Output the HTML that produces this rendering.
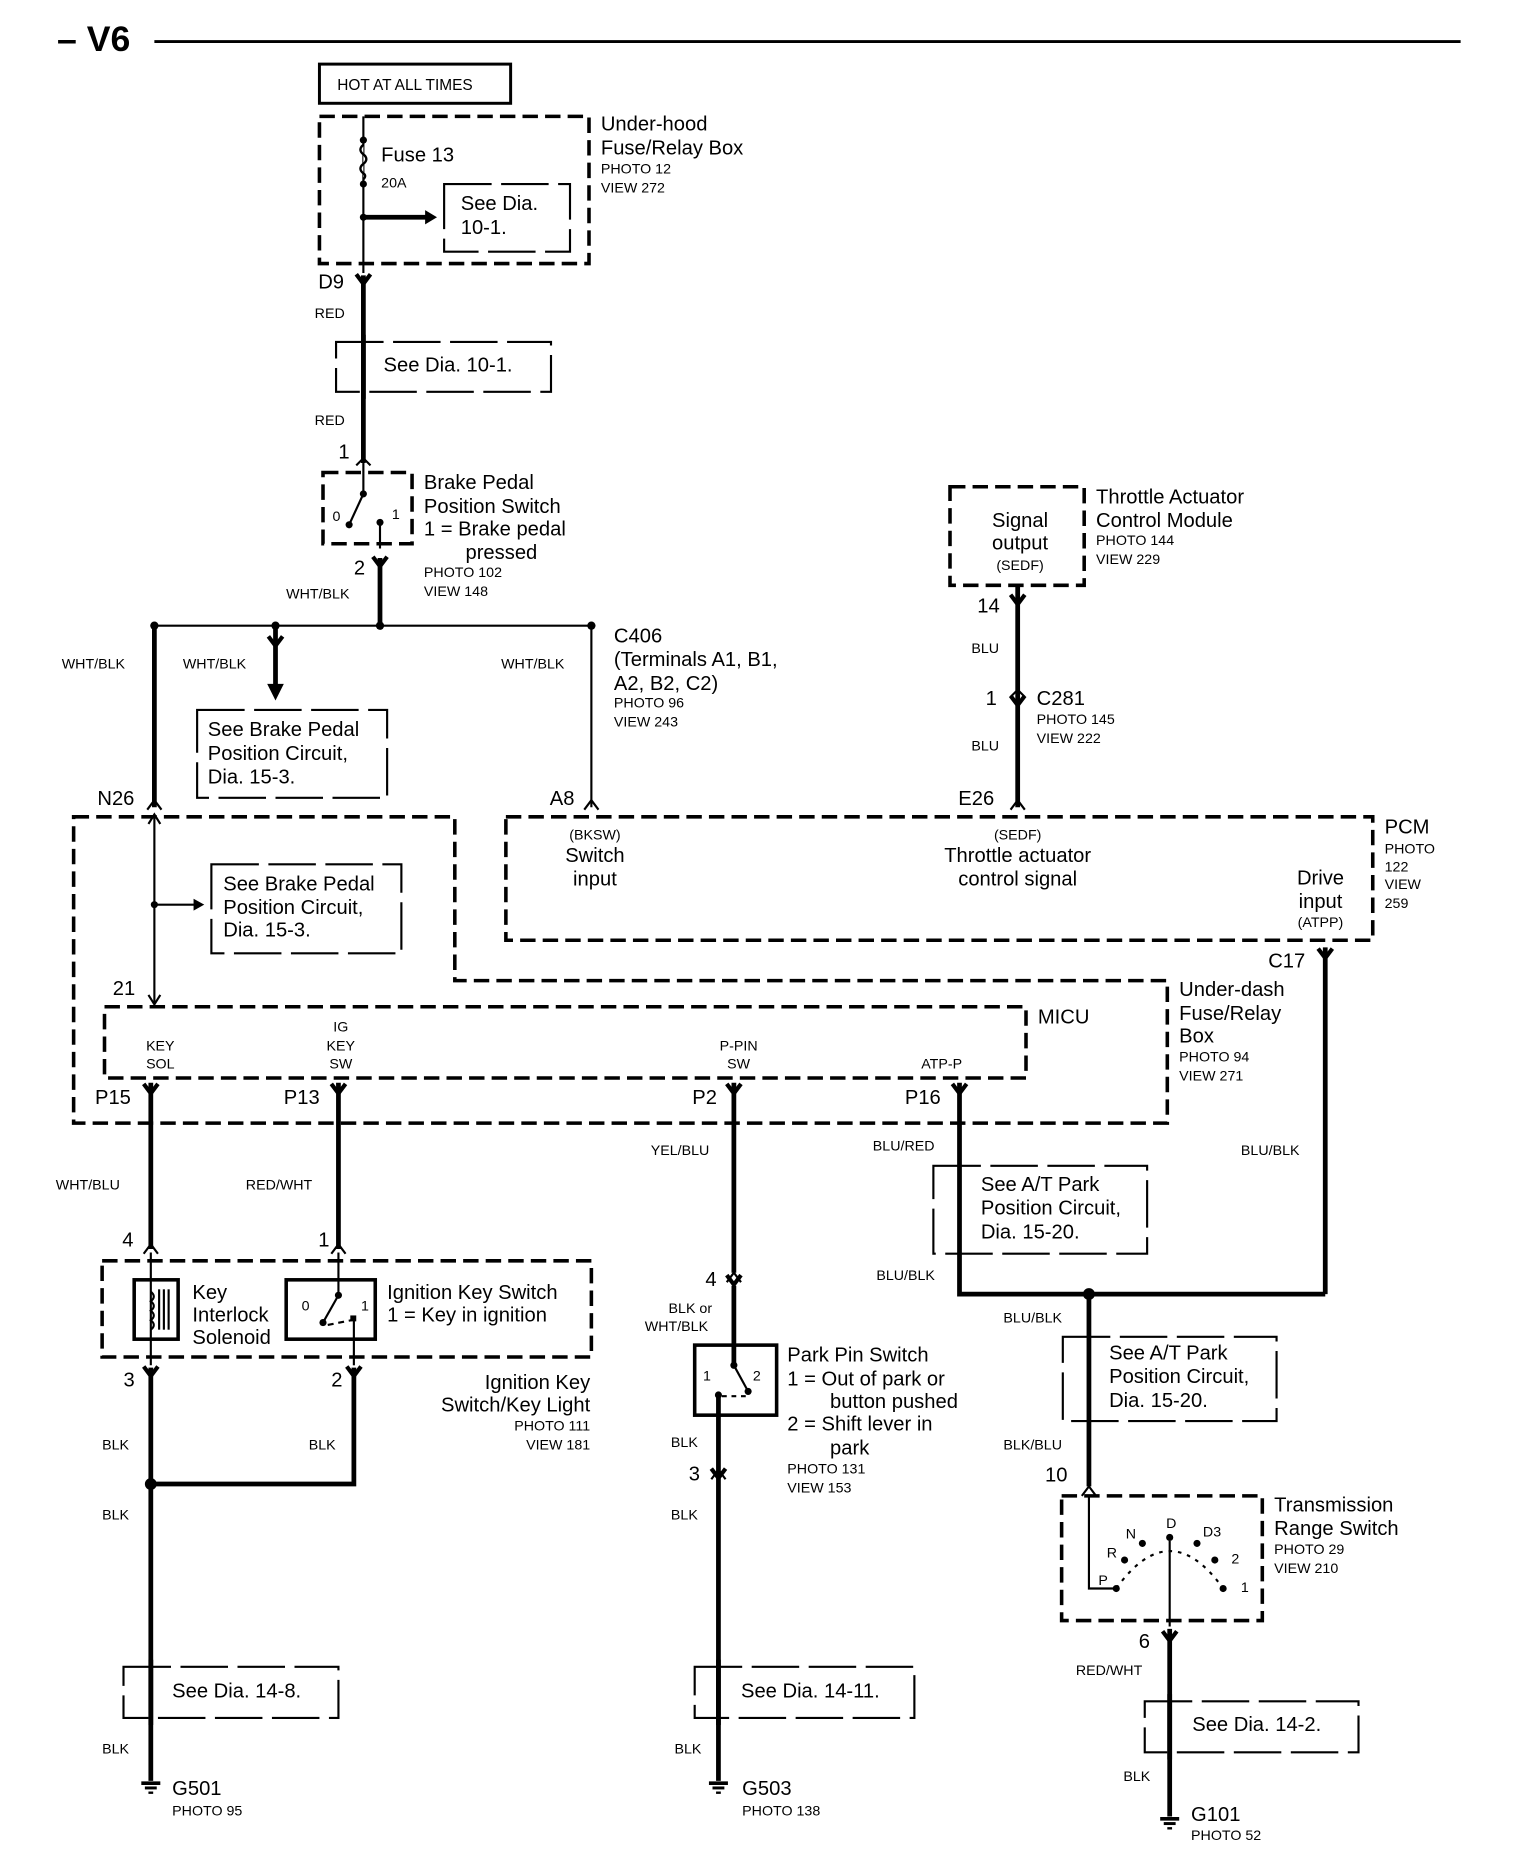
<!DOCTYPE html>
<html><head><meta charset="utf-8"><style>
html,body{margin:0;padding:0;background:#fff}
svg{display:block}
text{font-family:"Liberation Sans",sans-serif;fill:#000}
.l{font-size:17px}.s{font-size:12px}
.d{fill:none;stroke:#000;stroke-width:3;stroke-dasharray:13 6}
.w{stroke:#000;stroke-width:4;fill:none}
.t{stroke:#000;stroke-width:1.8;fill:none}
</style></head><body>
<svg width="1520" height="1858" viewBox="0 0 1280 1565" preserveAspectRatio="none" xmlns="http://www.w3.org/2000/svg">
<defs>
<g id="cf"><path d="M-6,-9 L0,-1 L6,-9" stroke="#000" stroke-width="3.5" fill="none"/></g>
<g id="gnd"><line x1="-8" y1="0" x2="8" y2="0" stroke="#000" stroke-width="3"/><line x1="-5" y1="4" x2="5" y2="4" stroke="#000" stroke-width="2.5"/><line x1="-2" y1="8" x2="2" y2="8" stroke="#000" stroke-width="2"/></g>
</defs>
<text x="48" y="43" font-size="30" font-weight="bold">– V6</text>
<line x1="130" y1="35" x2="1230" y2="35" stroke="#000" stroke-width="2.5"/>

<rect x="269" y="54" width="161" height="33" fill="none" stroke="#000" stroke-width="2.5"/>
<text x="284" y="76" font-size="13">HOT AT ALL TIMES</text>
<rect x="269" y="98" width="227" height="124" class="d"/>
<line x1="306" y1="98" x2="306" y2="230" class="t"/>
<circle cx="306" cy="118" r="3"/><circle cx="306" cy="155" r="3"/><circle cx="306" cy="183" r="3"/>
<path d="M306,122 q-5,4 0,8 q5,4 0,8 q-5,4 0,8 q3,2 0,5" stroke="#000" stroke-width="2" fill="#fff"/>
<text x="321" y="136" class="l">Fuse 13</text><text x="321" y="158" class="s">20A</text>
<line x1="306" y1="183" x2="360" y2="183" class="w" stroke-width="2.5"/><path d="M358,177 L368,183 L358,189Z"/>
<path d="M374,155 L480,155 L480,212 L374,212 Z" class="t" stroke-dasharray="40 8"/>
<text x="388" y="177" class="l">See Dia.</text><text x="388" y="197" class="l">10-1.</text>
<text x="506" y="110" class="l">Under-hood</text><text x="506" y="130" class="l">Fuse/Relay Box</text>
<text x="506" y="146" class="s">PHOTO 12</text><text x="506" y="162" class="s">VIEW 272</text>

<use href="#cf" x="306" y="240"/><text x="268" y="243" class="l">D9</text>
<line x1="306" y1="232" x2="306" y2="390" class="w"/>
<text x="265" y="268" class="s">RED</text><text x="265" y="358" class="s">RED</text>
<rect x="283" y="288" width="181" height="42" class="t" stroke-dasharray="40 8" fill="#fff"/>
<line x1="306" y1="282" x2="306" y2="336" class="w"/>
<text x="323" y="313" class="l">See Dia. 10-1.</text>
<text x="285" y="386" class="l">1</text>
<path d="M300,392 L306,386 L312,392" class="t" stroke-width="2.5"/>

<rect x="272" y="398" width="75" height="60" class="d"/>
<line x1="306" y1="390" x2="306" y2="415" class="t"/><circle cx="306" cy="416" r="3"/>
<line x1="306" y1="416" x2="294" y2="442" class="t" stroke-width="2.5"/><circle cx="294" cy="442" r="3"/>
<circle cx="320" cy="440" r="3"/><line x1="320" y1="440" x2="320" y2="462" class="t"/>
<text x="280" y="439" class="s">0</text><text x="330" y="437" class="s">1</text>
<text x="357" y="412" class="l">Brake Pedal</text><text x="357" y="432" class="l">Position Switch</text>
<text x="357" y="451" class="l">1 =  Brake pedal</text><text x="392" y="471" class="l">pressed</text>
<text x="357" y="486" class="s">PHOTO 102</text><text x="357" y="502" class="s">VIEW 148</text>
<text x="298" y="484" class="l">2</text><use href="#cf" x="320" y="478"/>
<line x1="320" y1="470" x2="320" y2="527" class="w"/>
<text x="241" y="504" class="s">WHT/BLK</text>
<line x1="130" y1="527" x2="498" y2="527" class="t"/>
<circle cx="130" cy="527" r="3.5"/><circle cx="232" cy="527" r="3.5"/><circle cx="320" cy="527" r="3.5"/><circle cx="498" cy="527" r="3.5"/>
<line x1="130" y1="527" x2="130" y2="680" class="w"/>
<line x1="232" y1="527" x2="232" y2="578" class="w"/><path d="M225,576 L232,590 L239,576Z"/>
<use href="#cf" x="232" y="545"/>
<line x1="498" y1="527" x2="498" y2="680" class="t"/>
<text x="52" y="563" class="s">WHT/BLK</text><text x="154" y="563" class="s">WHT/BLK</text><text x="422" y="563" class="s">WHT/BLK</text>
<rect x="166" y="598" width="160" height="74" class="t" stroke-dasharray="40 8"/>
<text x="175" y="620" class="l">See Brake Pedal</text><text x="175" y="640" class="l">Position  Circuit,</text><text x="175" y="660" class="l">Dia. 15-3.</text>
<text x="517" y="541" class="l">C406</text><text x="517" y="561" class="l">(Terminals A1, B1,</text><text x="517" y="581" class="l">A2, B2, C2)</text>
<text x="517" y="596" class="s">PHOTO 96</text><text x="517" y="612" class="s">VIEW 243</text>
<text x="82" y="678" class="l">N26</text><text x="463" y="678" class="l">A8</text>
<path d="M124,682 L130,674 L136,682" class="t" stroke-width="2.5"/><path d="M492,682 L498,674 L504,682" class="t" stroke-width="2.5"/>

<rect x="800" y="410" width="113" height="83" class="d"/>
<text x="859" y="444" class="l" text-anchor="middle">Signal</text><text x="859" y="463" class="l" text-anchor="middle">output</text><text x="859" y="480" class="s" text-anchor="middle">(SEDF)</text>
<text x="923" y="424" class="l">Throttle Actuator</text><text x="923" y="444" class="l">Control Module</text>
<text x="923" y="459" class="s">PHOTO 144</text><text x="923" y="475" class="s">VIEW 229</text>
<text x="823" y="516" class="l">14</text><use href="#cf" x="857" y="510"/>
<line x1="857" y1="493" x2="857" y2="680" class="w"/>
<text x="818" y="550" class="s">BLU</text><text x="818" y="632" class="s">BLU</text>
<use href="#cf" x="857" y="595"/><path d="M851,587 L857,581 L863,587" class="t" stroke-width="2.5"/>
<text x="830" y="594" class="l">1</text><text x="873" y="594" class="l">C281</text>
<text x="873" y="610" class="s">PHOTO 145</text><text x="873" y="626" class="s">VIEW 222</text>
<text x="807" y="678" class="l">E26</text><path d="M851,682 L857,674 L863,682" class="t" stroke-width="2.5"/>

<rect x="426" y="688" width="730" height="104" class="d"/>
<text x="501" y="707" class="s" text-anchor="middle">(BKSW)</text><text x="501" y="726" class="l" text-anchor="middle">Switch</text><text x="501" y="746" class="l" text-anchor="middle">input</text>
<text x="857" y="707" class="s" text-anchor="middle">(SEDF)</text><text x="857" y="726" class="l" text-anchor="middle">Throttle actuator</text><text x="857" y="746" class="l" text-anchor="middle">control signal</text>
<text x="1112" y="745" class="l" text-anchor="middle">Drive</text><text x="1112" y="765" class="l" text-anchor="middle">input</text><text x="1112" y="781" class="s" text-anchor="middle">(ATPP)</text>
<text x="1166" y="702" class="l">PCM</text><text x="1166" y="719" class="s">PHOTO</text><text x="1166" y="734" class="s">122</text><text x="1166" y="749" class="s">VIEW</text><text x="1166" y="765" class="s">259</text>
<text x="1068" y="815" class="l">C17</text><use href="#cf" x="1116" y="808"/>
<line x1="1116" y1="798" x2="1116" y2="1090" class="w"/>

<path d="M62,688 L383,688 L383,826 L983,826 L983,946 L62,946 Z" class="d"/>
<text x="993" y="839" class="l">Under-dash</text><text x="993" y="859" class="l">Fuse/Relay</text><text x="993" y="878" class="l">Box</text>
<text x="993" y="894" class="s">PHOTO 94</text><text x="993" y="910" class="s">VIEW 271</text>
<line x1="130" y1="686" x2="130" y2="845" class="t"/>
<path d="M125,694 L130,686 L135,694" class="t"/><path d="M125,838 L130,846 L135,838" class="t"/>
<circle cx="130" cy="762" r="3"/><line x1="130" y1="762" x2="165" y2="762" class="t"/><path d="M163,757 L172,762 L163,767Z"/>
<rect x="178" y="728" width="160" height="75" class="t" stroke-dasharray="40 8"/>
<text x="188" y="750" class="l">See Brake Pedal</text><text x="188" y="770" class="l">Position  Circuit,</text><text x="188" y="789" class="l">Dia. 15-3.</text>
<text x="95" y="838" class="l">21</text>
<rect x="88" y="848" width="776" height="60" class="d"/>
<text x="874" y="862" class="l">MICU</text>
<text x="135" y="885" class="s" text-anchor="middle">KEY</text><text x="135" y="900" class="s" text-anchor="middle">SOL</text>
<text x="287" y="869" class="s" text-anchor="middle">IG</text><text x="287" y="885" class="s" text-anchor="middle">KEY</text><text x="287" y="900" class="s" text-anchor="middle">SW</text>
<text x="622" y="885" class="s" text-anchor="middle">P-PIN</text><text x="622" y="900" class="s" text-anchor="middle">SW</text>
<text x="793" y="900" class="s" text-anchor="middle">ATP-P</text>
<text x="80" y="930" class="l">P15</text><text x="239" y="930" class="l">P13</text><text x="583" y="930" class="l">P2</text><text x="762" y="930" class="l">P16</text>
<use href="#cf" x="127" y="922"/><use href="#cf" x="285" y="922"/><use href="#cf" x="618" y="922"/><use href="#cf" x="808" y="922"/>
<line x1="127" y1="912" x2="127" y2="1052" class="w"/>
<line x1="285" y1="912" x2="285" y2="1052" class="w"/>
<line x1="618" y1="912" x2="618" y2="1072" class="w"/>
<path d="M808,912 L808,1090 L1116,1090" class="w"/>
<circle cx="917" cy="1090" r="5"/>
<line x1="917" y1="1090" x2="917" y2="1252" class="w"/>
<text x="47" y="1002" class="s">WHT/BLU</text><text x="207" y="1002" class="s">RED/WHT</text>
<text x="548" y="973" class="s">YEL/BLU</text><text x="735" y="969" class="s">BLU/RED</text><text x="1045" y="973" class="s">BLU/BLK</text>
<text x="738" y="1078" class="s">BLU/BLK</text><text x="845" y="1114" class="s">BLU/BLK</text>
<rect x="786" y="982" width="180" height="74" class="t" stroke-dasharray="40 8"/>
<text x="826" y="1003" class="l">See A/T Park</text><text x="826" y="1023" class="l">Position Circuit,</text><text x="826" y="1043" class="l">Dia. 15-20.</text>
<rect x="895" y="1126" width="180" height="71" class="t" stroke-dasharray="40 8"/>
<text x="934" y="1145" class="l">See A/T Park</text><text x="934" y="1165" class="l">Position Circuit,</text><text x="934" y="1185" class="l">Dia. 15-20.</text>

<text x="103" y="1050" class="l">4</text><text x="268" y="1050" class="l">1</text>
<path d="M121,1056 L127,1048 L133,1056" class="t" stroke-width="2.5"/><path d="M279,1056 L285,1048 L291,1056" class="t" stroke-width="2.5"/>
<rect x="86" y="1062" width="412" height="81" class="d"/>
<rect x="113" y="1078" width="37" height="50" fill="none" stroke="#000" stroke-width="3"/>
<line x1="127" y1="1055" x2="127" y2="1150" class="t"/>
<path d="M127,1088 q5,4 0,8 q5,4 0,8 q5,4 0,8 q5,4 0,8" class="t"/>
<line x1="134" y1="1086" x2="134" y2="1120" class="t" stroke-width="1.2"/><line x1="138" y1="1086" x2="138" y2="1120" class="t" stroke-width="1.2"/><line x1="142" y1="1086" x2="142" y2="1120" class="t" stroke-width="1.2"/>
<text x="162" y="1094" class="l">Key</text><text x="162" y="1113" class="l">Interlock</text><text x="162" y="1132" class="l">Solenoid</text>
<rect x="241" y="1078" width="75" height="50" fill="none" stroke="#000" stroke-width="3"/>
<line x1="285" y1="1055" x2="285" y2="1090" class="t"/><circle cx="285" cy="1091" r="3"/>
<line x1="285" y1="1091" x2="272" y2="1114" class="t" stroke-width="2.5"/><circle cx="272" cy="1114" r="3"/>
<path d="M276,1116 L296,1112" class="t" stroke-dasharray="5 4"/>
<rect x="295" y="1108" width="5" height="5"/><line x1="298" y1="1110" x2="298" y2="1150" class="t"/>
<text x="254" y="1104" class="s">0</text><text x="304" y="1104" class="s">1</text>
<text x="326" y="1094" class="l">Ignition Key Switch</text><text x="326" y="1113" class="l">1 =  Key in ignition</text>
<text x="104" y="1168" class="l">3</text><text x="279" y="1168" class="l">2</text>
<use href="#cf" x="127" y="1160"/><use href="#cf" x="298" y="1160"/>
<text x="497" y="1170" class="l" text-anchor="end">Ignition Key</text><text x="497" y="1189" class="l" text-anchor="end">Switch/Key Light</text>
<text x="497" y="1205" class="s" text-anchor="end">PHOTO 111</text><text x="497" y="1221" class="s" text-anchor="end">VIEW 181</text>
<text x="86" y="1221" class="s">BLK</text><text x="260" y="1221" class="s">BLK</text>
<path d="M298,1152 L298,1250 L127,1250" class="w"/><circle cx="127" cy="1250" r="5"/>
<line x1="127" y1="1152" x2="127" y2="1500" class="w"/>
<text x="86" y="1280" class="s">BLK</text>
<rect x="104" y="1404" width="181" height="43" class="t" stroke-dasharray="40 8" fill="#fff"/>
<line x1="127" y1="1398" x2="127" y2="1453" class="w"/>
<text x="145" y="1430" class="l">See Dia. 14-8.</text>
<text x="86" y="1477" class="s">BLK</text>
<use href="#gnd" x="127" y="1502"/>
<text x="145" y="1512" class="l">G501</text><text x="145" y="1529" class="s">PHOTO 95</text>

<text x="594" y="1083" class="l">4</text><use href="#cf" x="618" y="1083"/><path d="M612,1080 L618,1072 L624,1080" class="t" stroke-width="2.5"/>
<text x="563" y="1106" class="s">BLK or</text><text x="543" y="1121" class="s">WHT/BLK</text>
<line x1="618" y1="1083" x2="618" y2="1150" class="w"/>
<rect x="585" y="1133" width="69" height="59" fill="none" stroke="#000" stroke-width="3"/>
<circle cx="618" cy="1150" r="3"/><line x1="618" y1="1150" x2="630" y2="1172" class="t" stroke-width="2.5"/><circle cx="630" cy="1172" r="3"/>
<circle cx="605" cy="1175" r="3"/><path d="M608,1176 L630,1176" class="t" stroke-dasharray="4 4"/>
<text x="592" y="1163" class="s">1</text><text x="634" y="1163" class="s">2</text>
<line x1="605" y1="1175" x2="605" y2="1500" class="w"/>
<text x="663" y="1147" class="l">Park Pin Switch</text><text x="663" y="1167" class="l">1 = Out of park or</text>
<text x="699" y="1186" class="l">button pushed</text><text x="663" y="1205" class="l">2 = Shift lever in</text>
<text x="699" y="1225" class="l">park</text><text x="663" y="1241" class="s">PHOTO 131</text><text x="663" y="1257" class="s">VIEW 153</text>
<text x="565" y="1219" class="s">BLK</text><text x="580" y="1247" class="l">3</text>
<use href="#cf" x="605" y="1246"/><path d="M599,1246 L605,1238 L611,1246" class="t" stroke-width="2.5"/>
<text x="565" y="1280" class="s">BLK</text>
<rect x="585" y="1404" width="185" height="43" class="t" stroke-dasharray="40 8" fill="#fff"/>
<line x1="605" y1="1398" x2="605" y2="1453" class="w"/>
<text x="624" y="1430" class="l">See Dia. 14-11.</text>
<text x="568" y="1477" class="s">BLK</text>
<use href="#gnd" x="605" y="1502"/>
<text x="625" y="1512" class="l">G503</text><text x="625" y="1529" class="s">PHOTO 138</text>

<text x="845" y="1221" class="s">BLK/BLU</text><text x="880" y="1248" class="l">10</text>
<path d="M911,1260 L917,1252 L923,1260" class="t" stroke-width="2.5"/>
<rect x="894" y="1260" width="169" height="105" class="d"/>
<path d="M917,1260 L917,1338 L940,1338" class="t"/>
<path d="M940,1338 Q985,1275 1030,1338" class="t" stroke-dasharray="3 5"/>
<circle cx="940" cy="1338" r="3"/><circle cx="947" cy="1314" r="3"/><circle cx="962" cy="1300" r="3"/><circle cx="985" cy="1295" r="3"/><circle cx="1008" cy="1300" r="3"/><circle cx="1023" cy="1314" r="3"/><circle cx="1030" cy="1338" r="3"/>
<line x1="985" y1="1298" x2="985" y2="1370" class="t"/>
<text x="925" y="1335" class="s">P</text><text x="932" y="1312" class="s">R</text><text x="948" y="1296" class="s">N</text><text x="982" y="1287" class="s">D</text><text x="1013" y="1294" class="s">D3</text><text x="1037" y="1317" class="s">2</text><text x="1045" y="1341" class="s">1</text>
<text x="1073" y="1273" class="l">Transmission</text><text x="1073" y="1293" class="l">Range Switch</text>
<text x="1073" y="1309" class="s">PHOTO 29</text><text x="1073" y="1325" class="s">VIEW 210</text>
<text x="959" y="1388" class="l">6</text><use href="#cf" x="985" y="1383"/>
<line x1="985" y1="1372" x2="985" y2="1530" class="w"/>
<text x="906" y="1411" class="s">RED/WHT</text>
<rect x="964" y="1433" width="180" height="43" class="t" stroke-dasharray="40 8" fill="#fff"/>
<line x1="985" y1="1427" x2="985" y2="1482" class="w"/>
<text x="1004" y="1458" class="l">See Dia. 14-2.</text>
<text x="946" y="1500" class="s">BLK</text>
<use href="#gnd" x="985" y="1532"/>
<text x="1003" y="1534" class="l">G101</text><text x="1003" y="1550" class="s">PHOTO 52</text>
</svg>
</body></html>
